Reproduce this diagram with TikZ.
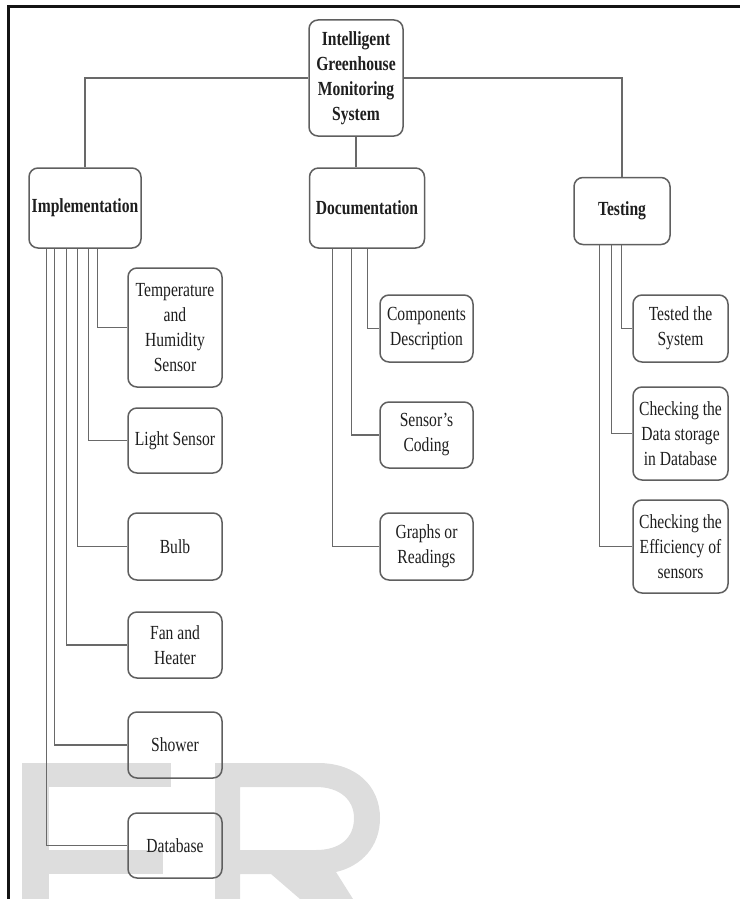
\documentclass[tikz,border=0pt]{standalone}
\usepackage{fontspec}
\setmainfont{Liberation Serif}[FakeStretch=0.78]
\definecolor{linec}{RGB}{105,105,105}
\definecolor{boxc}{RGB}{95,95,95}
\definecolor{txtc}{RGB}{30,30,30}
\definecolor{wmark}{RGB}{221,221,221}
\definecolor{framec}{RGB}{20,20,20}
\begin{document}
\begin{tikzpicture}[x=1pt,y=-1pt,
  boxnode/.style={draw=boxc,rounded corners=9pt,line width=1.5pt,align=center,
    inner sep=0pt,text=txtc,font=\fontsize{20}{25}\selectfont},
  headnode/.style={boxnode,font=\fontsize{20}{25}\selectfont\bfseries},
  conn/.style={draw=linec,line width=1.3pt}]
\useasboundingbox (0,0) rectangle (740,899);
% watermark
\fill[wmark] (22,763) rectangle (49,899);
\fill[wmark] (22,763) rectangle (171,787);
\fill[wmark] (49,850) rectangle (163,874);
\fill[wmark,even odd rule]
  (215,899) -- (215,763) -- (318,763)
  .. controls (356,763) and (380,786) .. (380,818)
  .. controls (380,846) and (362,866) .. (336,872)
  -- (353,899) -- (300,899) -- (271,874) -- (240,874) -- (240,899) -- cycle
  (240,787) -- (316,787)
  .. controls (340,787) and (354,800) .. (354,818)
  .. controls (354,838) and (340,850) .. (316,850)
  -- (240,850) -- cycle;
% frame
\draw[framec,line width=3pt] (8,899) -- (8,7) -- (740,7);
% nodes
\node[headnode,minimum width=94pt,minimum height=116pt] (root) at (356,78)
  {Intelligent\\Greenhouse\\Monitoring\\System};
\node[headnode,minimum width=112pt,minimum height=80pt] (impl) at (85,208) {Implementation};
\node[headnode,minimum width=115pt,minimum height=80pt] (doc) at (367,208) {Documentation};
\node[headnode,minimum width=96pt,minimum height=67pt] (test) at (622,211) {Testing};
\node[boxnode,minimum width=94pt,minimum height=119pt] (temp) at (175,327.5)
  {Temperature\\and\\Humidity\\Sensor};
\node[boxnode,minimum width=94pt,minimum height=65pt] (light) at (175,440.5) {Light Sensor};
\node[boxnode,minimum width=94pt,minimum height=67pt] (bulb) at (175,546.5) {Bulb};
\node[boxnode,minimum width=94pt,minimum height=66pt] (fan) at (175,645) {Fan and\\Heater};
\node[boxnode,minimum width=94pt,minimum height=66pt] (shower) at (175,745) {Shower};
\node[boxnode,minimum width=94pt,minimum height=65pt] (db) at (175,845.5) {Database};
\node[boxnode,minimum width=93pt,minimum height=67pt] (comp) at (426.5,328.5) {Components\\Description};
\node[boxnode,minimum width=93pt,minimum height=66pt] (coding) at (426.5,435) {Sensor’s\\Coding};
\node[boxnode,minimum width=93pt,minimum height=67pt] (graphs) at (426.5,546.5) {Graphs or\\Readings};
\node[boxnode,minimum width=95pt,minimum height=67pt] (tested) at (680.5,328.5) {Tested the\\System};
\node[boxnode,minimum width=95pt,minimum height=93pt] (chkdata) at (680.5,433.5) {Checking the\\Data storage\\in Database};
\node[boxnode,minimum width=95pt,minimum height=93pt] (chkeff) at (680.5,546.5) {Checking the\\Efficiency of\\sensors};
% top level connectors
\draw[conn] (impl.north) |- (root.west);
\draw[conn] (root.east) -| (test.north);
\draw[conn] (root.south) -- (root.south |- doc.north);
% implementation children
\draw[conn] ([xshift=69pt]impl.south west) |- (temp.west);
\draw[conn] ([xshift=60pt]impl.south west) |- (light.west);
\draw[conn] ([xshift=49pt]impl.south west) |- (bulb.west);
\draw[conn] ([xshift=38pt]impl.south west) |- (fan.west);
\draw[conn] ([xshift=26pt]impl.south west) |- (shower.west);
\draw[conn] ([xshift=18pt]impl.south west) |- (db.west);
% documentation children
\draw[conn] ([xshift=58.5pt]doc.south west) |- (comp.west);
\draw[conn] ([xshift=42.5pt]doc.south west) |- (coding.west);
\draw[conn] ([xshift=23.5pt]doc.south west) |- (graphs.west);
% testing children
\draw[conn] ([xshift=48pt]test.south west) |- (tested.west);
\draw[conn] ([xshift=38pt]test.south west) |- (chkdata.west);
\draw[conn] ([xshift=26pt]test.south west) |- (chkeff.west);
\end{tikzpicture}
\end{document}
